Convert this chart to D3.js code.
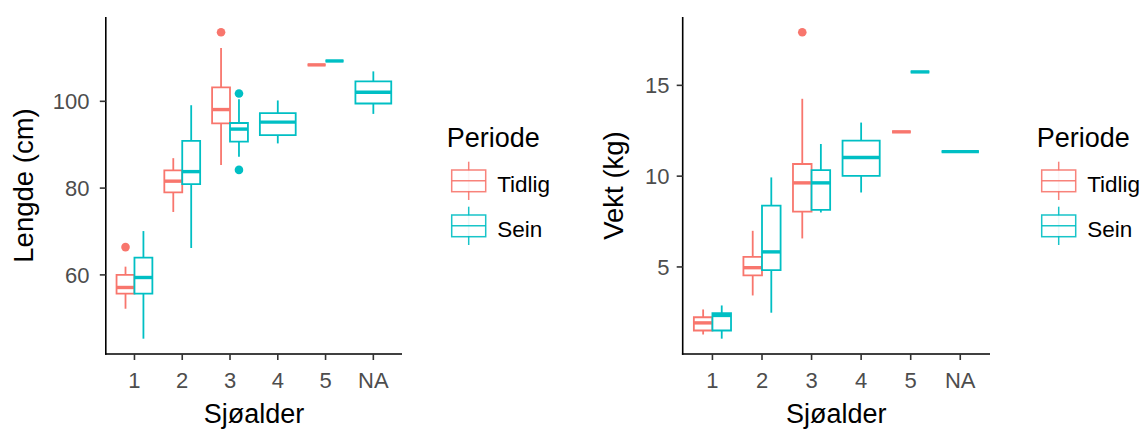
<!DOCTYPE html>
<html>
<head>
<meta charset="utf-8">
<script src="https://cdn.jsdelivr.net/npm/d3@7"></script>
<style>
  html, body { margin: 0; padding: 0; background: #fff; }
  svg { display: block; font-family: "Liberation Sans", Arial, sans-serif; }
</style>
</head>
<body>
<svg id="chart" width="1146" height="430"></svg>
<script>
// ---- data ----
const categories = ["1", "2", "3", "4", "5", "NA"];
const periods = ["Tidlig", "Sein"];
const periodColors = ["#F8766D", "#00BFC4"];
const xTitle = "Sjøalder";
const legendTitle = "Periode";

// five-number summaries [lower whisker, q1, median, q3, upper whisker] per category (null = missing)
const lengdeTidlig = [
  [52.2, 55.7, 57.1, 60.0, 61.9],
  [74.5, 79.0, 81.6, 84.1, 86.9],
  [85.3, 94.9, 98.1, 103.2, 112.3],
  null,
  [108.4, 108.4, 108.4, 108.4, 108.4],
  null
];
const lengdeSein = [
  [45.3, 55.7, 59.4, 64.0, 70.1],
  [66.2, 80.9, 83.8, 90.9, 99.1],
  [87.2, 90.7, 93.6, 95.0, 100.5],
  [90.3, 92.2, 95.2, 97.3, 100.2],
  [109.3, 109.3, 109.3, 109.3, 109.3],
  [97.1, 99.5, 102.1, 104.6, 106.9]
];
const lengdeOutTidlig = [[66.4], [], [115.9], [], [], []];
const lengdeOutSein = [[], [], [101.8, 84.2], [], [], []];
const lengdeTicks = [60, 80, 100];

const vektTidlig = [
  [1.28, 1.50, 1.92, 2.23, 2.66],
  [3.43, 4.54, 4.96, 5.55, 6.99],
  [6.57, 8.05, 9.63, 10.67, 14.26],
  null,
  [12.44, 12.44, 12.44, 12.44, 12.44],
  null
];
const vektSein = [
  [1.05, 1.50, 2.33, 2.45, 2.88],
  [2.48, 4.82, 5.83, 8.38, 9.93],
  [8.00, 8.14, 9.63, 10.33, 11.77],
  [9.10, 10.02, 11.03, 11.96, 12.95],
  [15.74, 15.74, 15.74, 15.74, 15.74],
  [11.35, 11.35, 11.35, 11.35, 11.35]
];
const vektOutTidlig = [[], [], [17.92], [], [], []];
const vektOutSein = [[], [], [], [], [], []];
const vektTicks = [5, 10, 15];

// ---- drawing ----
const svg = d3.select("#chart");
const tickColor = "#4D4D4D";

function drawPanel(opts) {
  const { x0, x1, y0, y1, stats, outs, ticks, yTitle, yTitleX, tickLabelX, legendX } = opts;
  const g = svg.append("g");

  // y domain from data with 5% expansion
  const allVals = [];
  stats.forEach(s => s.forEach(d => { if (d) allVals.push(...d); }));
  outs.forEach(s => s.forEach(a => allVals.push(...a)));
  const mn = d3.min(allVals), mx = d3.max(allVals);
  const pad = (mx - mn) * 0.05;
  const y = d3.scaleLinear().domain([mn - pad, mx + pad]).range([y1, y0]);
  const x = d3.scalePoint().domain(categories).range([x0, x1]).padding(0.6);
  const step = x.step();

  // boxes
  categories.forEach((c, ci) => {
    const present = periods.map((p, pi) => stats[pi][ci] ? pi : -1).filter(v => v >= 0);
    present.forEach((pi, k) => {
      const d = stats[pi][ci];
      const n = present.length;
      const w = 0.75 * step / n;
      const cx = x(c) - 0.375 * step + w * (k + 0.5);
      const col = periodColors[pi];
      const bg = g.append("g");
      // whiskers
      bg.append("line").attr("x1", cx).attr("x2", cx).attr("y1", y(d[3])).attr("y2", y(d[4]))
        .attr("stroke", col).attr("stroke-width", 1.8);
      bg.append("line").attr("x1", cx).attr("x2", cx).attr("y1", y(d[1])).attr("y2", y(d[0]))
        .attr("stroke", col).attr("stroke-width", 1.8);
      // box
      const bx0 = cx - w / 2, bx1 = cx + w / 2;
      const p = d3.path();
      p.moveTo(bx0, y(d[3])); p.lineTo(bx1, y(d[3])); p.lineTo(bx1, y(d[1])); p.lineTo(bx0, y(d[1])); p.closePath();
      bg.append("path").attr("d", p.toString()).attr("fill", "#fff")
        .attr("stroke", col).attr("stroke-width", 1.8);
      // median
      bg.append("line").attr("x1", bx0).attr("x2", bx1).attr("y1", y(d[2])).attr("y2", y(d[2]))
        .attr("stroke", col).attr("stroke-width", 3.4);
      // outliers
      outs[pi][ci].forEach(o => {
        bg.append("circle").attr("cx", cx).attr("cy", y(o)).attr("r", 4.3).attr("fill", col);
      });
    });
  });

  // axes lines
  g.append("line").attr("x1", x0).attr("x2", x0).attr("y1", y0).attr("y2", y1 + 0.8)
    .attr("stroke", "#000").attr("stroke-width", 1.6);
  g.append("line").attr("x1", x0 - 0.8).attr("x2", x1).attr("y1", y1).attr("y2", y1)
    .attr("stroke", "#000").attr("stroke-width", 1.6);

  // y ticks
  ticks.forEach(t => {
    g.append("line").attr("x1", x0 - 6).attr("x2", x0).attr("y1", y(t)).attr("y2", y(t))
      .attr("stroke", "#333").attr("stroke-width", 1.6);
    g.append("text").attr("x", tickLabelX).attr("y", y(t)).attr("dy", "0.36em")
      .attr("text-anchor", "end").attr("font-size", 22).attr("fill", tickColor).text(t);
  });
  // x ticks
  categories.forEach(c => {
    g.append("line").attr("x1", x(c)).attr("x2", x(c)).attr("y1", y1).attr("y2", y1 + 6)
      .attr("stroke", "#333").attr("stroke-width", 1.6);
    g.append("text").attr("x", x(c)).attr("y", 388).attr("text-anchor", "middle")
      .attr("font-size", 22).attr("fill", tickColor).text(c);
  });

  // titles
  g.append("text").attr("x", (x0 + x1) / 2).attr("y", 422.5).attr("text-anchor", "middle")
    .attr("font-size", 27).attr("fill", "#000").text(xTitle);
  g.append("text").attr("transform", `translate(${yTitleX},${(y0 + y1) / 2}) rotate(-90)`)
    .attr("text-anchor", "middle").attr("font-size", 27.5).attr("fill", "#000").text(yTitle);

  // legend
  const lg = g.append("g");
  lg.append("text").attr("x", legendX).attr("y", 146.5).attr("font-size", 27).attr("fill", "#000").text(legendTitle);
  periods.forEach((p, i) => {
    const top = 161.7 + i * 45;
    const kx0 = legendX + 5, kx1 = legendX + 39, kc = (kx0 + kx1) / 2;
    const col = periodColors[i];
    lg.append("line").attr("x1", kc).attr("x2", kc).attr("y1", top).attr("y2", top + 38.3)
      .attr("stroke", col).attr("stroke-width", 1.5).attr("opacity", 0.9);
    lg.append("rect").attr("x", kx0).attr("y", top + 8.3).attr("width", kx1 - kx0).attr("height", 21.7)
      .attr("fill", "#fff").attr("stroke", col).attr("stroke-width", 1.5).attr("opacity", 0.9);
    lg.append("line").attr("x1", kx0).attr("x2", kx1).attr("y1", top + 19).attr("y2", top + 19)
      .attr("stroke", col).attr("stroke-width", 1.5).attr("opacity", 0.9);
    lg.append("text").attr("x", legendX + 50.5).attr("y", top + 30).attr("font-size", 22.5)
      .attr("fill", "#000").text(p);
  });
}

drawPanel({
  x0: 105.8, x1: 402, y0: 17, y1: 354,
  stats: [lengdeTidlig, lengdeSein], outs: [lengdeOutTidlig, lengdeOutSein],
  ticks: lengdeTicks, yTitle: "Lengde (cm)", yTitleX: 33, tickLabelX: 89.5, legendX: 446.7
});
drawPanel({
  x0: 682.7, x1: 990, y0: 17, y1: 354,
  stats: [vektTidlig, vektSein], outs: [vektOutTidlig, vektOutSein],
  ticks: vektTicks, yTitle: "Vekt (kg)", yTitleX: 623, tickLabelX: 669.5, legendX: 1036.7
});
</script>
</body>
</html>
